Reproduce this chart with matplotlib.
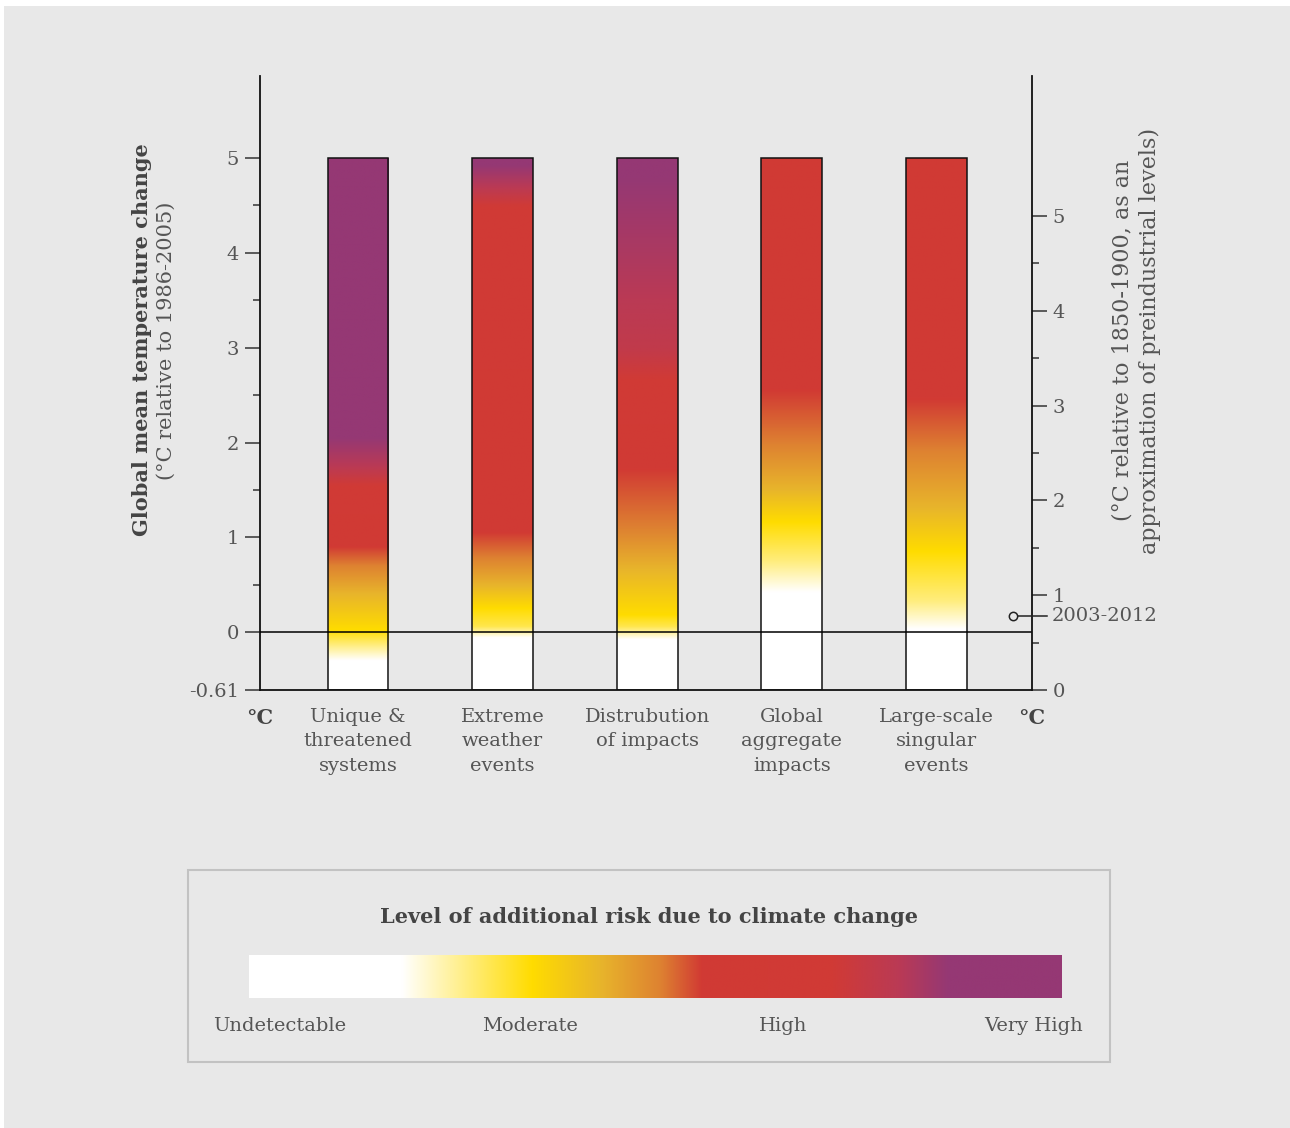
import numpy as np
import matplotlib
matplotlib.use('Agg')
import matplotlib.pyplot as plt
from matplotlib.colors import LinearSegmentedColormap
from matplotlib.patches import Rectangle

# 数据
categories = ["Unique &\nthreatened\nsystems", "Extreme\nweather\nevents",
              "Distrubution\nof impacts", "Global\naggregate\nimpacts",
              "Large-scale\nsingular\nevents"]
y_bottom = -0.61          # 1986-2005 基准下的 0°C (工业化前)
y_top = 5.0
offset_preindustrial = 0.61
obs_2003_2012 = 0.78      # 相对 1850-1900

# 各柱的风险等级过渡点 (温度, 风险等级位置 0~1)
bar_temps = [
    [-0.61, -0.30, 0.02, 0.40, 0.70, 0.90, 1.50, 1.75, 2.05, 5.00],
    [-0.61, -0.06, 0.06, 0.25, 0.49, 0.78, 1.05, 4.50, 4.70, 5.00],
    [-0.61, -0.08, 0.06, 0.18, 0.66, 1.09, 1.72, 3.00, 5.00],
    [-0.61, 0.42, 0.75, 1.16, 1.50, 1.98, 2.55, 5.00],
    [-0.61, 0.03, 0.33, 0.85, 1.31, 1.91, 2.46, 5.00],
]
bar_levels = [
    [0.10, 0.188, 0.348, 0.432, 0.506, 0.557, 0.70, 0.80, 0.86, 1.00],
    [0.10, 0.188, 0.30, 0.348, 0.432, 0.506, 0.557, 0.72, 0.80, 0.88],
    [0.10, 0.188, 0.30, 0.348, 0.432, 0.506, 0.557, 0.775, 0.87],
    [0.10, 0.188, 0.27, 0.348, 0.432, 0.506, 0.557, 0.60],
    [0.10, 0.188, 0.27, 0.348, 0.432, 0.506, 0.557, 0.60],
]

legend_labels = ["Undetectable", "Moderate", "High", "Very High"]

# 颜色
risk_cmap = LinearSegmentedColormap.from_list('risk', [
    (0.0, '#FFFFFF'), (0.188, '#FFFFFF'), (0.348, '#FFDC00'), (0.432, '#E8B52B'),
    (0.506, '#DE8231'), (0.557, '#D13A34'), (0.72, '#D03A36'), (0.80, '#BA3A55'),
    (0.86, '#953874'), (1.0, '#953874')], N=2048)

bg = '#E8E8E8'
txt = '#444444'
plt.rcParams['font.family'] = 'DejaVu Serif'

fig = plt.figure(figsize=(12.9, 11.28), dpi=100)
fig.patches.append(Rectangle((4 / 1290, 0), 1, 1 - 6 / 1128, transform=fig.transFigure,
                             facecolor=bg, edgecolor='none', zorder=-10))

ax = fig.add_axes([260 / 1290, 1 - 690 / 1128, 772 / 1290, 614 / 1128])
ax.set_facecolor('none')
x = np.arange(len(categories))
width = 0.42
ax.set_xlim(-0.678, 4.661)
ax.set_ylim(y_bottom, 5.865)

# 渐变柱
tt = np.linspace(y_bottom, y_top, 1000)
for i in range(len(categories)):
    lev = np.interp(tt, bar_temps[i], bar_levels[i])
    img = risk_cmap(lev)[:, None, :]
    ax.imshow(img, extent=[x[i] - width / 2, x[i] + width / 2, y_bottom, y_top],
              origin='lower', aspect='auto', interpolation='bilinear', zorder=2)
    ax.add_patch(Rectangle((x[i] - width / 2, y_bottom), width, y_top - y_bottom,
                           facecolor='none', edgecolor='#111111', lw=1.1, zorder=3))

ax.axhline(0, color='black', lw=1.1, zorder=4)

for s in ['top', 'right']:
    ax.spines[s].set_visible(False)
for s in ['left', 'bottom']:
    ax.spines[s].set_linewidth(1.3)
    ax.spines[s].set_color('#111111')

ax.set_yticks([y_bottom, 0, 1, 2, 3, 4, 5])
ax.set_yticklabels(['-0.61', '0', '1', '2', '3', '4', '5'])
ax.set_yticks([0.5, 1.5, 2.5, 3.5, 4.5], minor=True)
ax.tick_params(axis='y', which='major', length=11, width=1.1, color='#333333',
               labelsize=14, labelcolor='#555555', pad=4)
ax.tick_params(axis='y', which='minor', length=5, width=1.1, color='#333333')
ax.set_xticks(x)
ax.set_xticklabels(categories, fontsize=14, color='#555555', linespacing=1.45)
ax.tick_params(axis='x', length=0, pad=13)

# 右轴 (相对 1850-1900)
ax2 = ax.twinx()
ax2.set_ylim(y_bottom + offset_preindustrial, 5.865 + offset_preindustrial)
for s in ['top', 'left', 'bottom']:
    ax2.spines[s].set_visible(False)
ax2.spines['right'].set_linewidth(1.3)
ax2.spines['right'].set_color('#111111')
ax2.set_yticks([0, 1, 2, 3, 4, 5])
ax2.set_yticks([0.5, 1.5, 2.5, 3.5, 4.5], minor=True)
ax2.tick_params(axis='y', which='major', length=11, width=1.1, color='#333333',
                labelsize=14, labelcolor='#555555', pad=4)
ax2.tick_params(axis='y', which='minor', length=5, width=1.1, color='#333333')

tr = ax2.get_yaxis_transform()
ax2.plot([0.975, 1.019], [obs_2003_2012, obs_2003_2012], color='#222222', lw=1.1,
         transform=tr, clip_on=False, zorder=5)
ax2.plot([0.975], [obs_2003_2012], marker='o', ms=6, mfc=bg, mec='#222222', mew=1.1,
         transform=tr, clip_on=False, zorder=6)
ax2.text(1.025, obs_2003_2012, '2003-2012', transform=tr, fontsize=14, color='#555555',
         va='center', ha='left')

# °C 标签
ax.text(0, -0.03, '°C', transform=ax.transAxes, ha='center', va='top', fontsize=15,
        fontweight='bold', color=txt)
ax.text(1, -0.03, '°C', transform=ax.transAxes, ha='center', va='top', fontsize=15,
        fontweight='bold', color=txt)

# 轴标题
fig.text(142 / 1290, 1 - 340 / 1128, 'Global mean temperature change', rotation=90,
         ha='center', va='center', fontsize=15, fontweight='bold', color=txt)
fig.text(166 / 1290, 1 - 341 / 1128, '(°C relative to 1986-2005)', rotation=90,
         ha='center', va='center', fontsize=15, color='#555555')
fig.text(1122 / 1290, 1 - 340 / 1128, '(°C relative to 1850-1900, as an', rotation=90,
         ha='center', va='center', fontsize=16, color='#555555')
fig.text(1150 / 1290, 1 - 341 / 1128, 'approximation of preindustrial levels)', rotation=90,
         ha='center', va='center', fontsize=16, color='#555555')

# 图例框
fig.patches.append(Rectangle((188 / 1290, 1 - 1062 / 1128), 922 / 1290, 192 / 1128,
                             transform=fig.transFigure, facecolor='none',
                             edgecolor='#C2C2C2', lw=1.5))
fig.text(649 / 1290, 1 - 917 / 1128, 'Level of additional risk due to climate change',
         ha='center', va='center', fontsize=15, fontweight='bold', color=txt)
cax = fig.add_axes([249 / 1290, 1 - 998 / 1128, 813 / 1290, 43 / 1128])
grad = np.linspace(0, 1, 1200)[None, :]
cax.imshow(grad, cmap=risk_cmap, aspect='auto', extent=[0, 1, 0, 1], interpolation='bilinear')
cax.axis('off')
for lab, xc in zip(legend_labels, [280, 530, 783, 1034]):
    fig.text(xc / 1290, 1 - 1026 / 1128, lab, ha='center', va='center', fontsize=14,
             color='#555555')

fig.savefig('out.png', dpi=100, facecolor='white')
